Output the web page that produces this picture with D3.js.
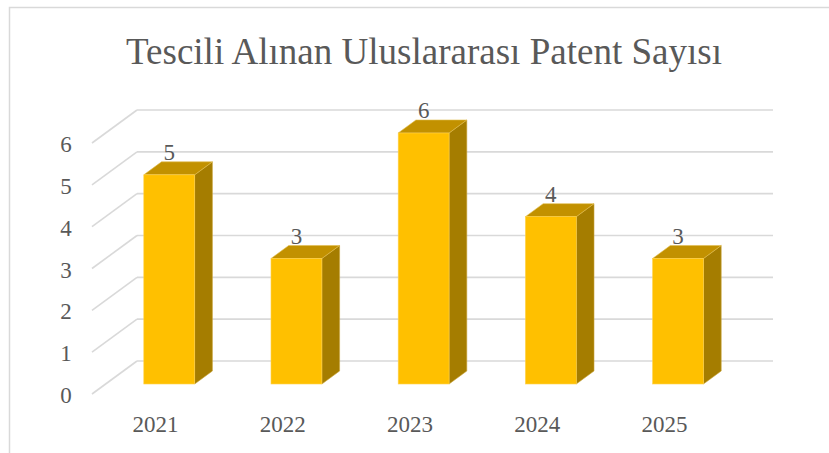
<!DOCTYPE html>
<html>
<head>
<meta charset="utf-8">
<script src="https://cdn.jsdelivr.net/npm/d3@7"></script>
<style>
html,body{margin:0;padding:0;background:#fff;}
svg{display:block;}
</style>
</head>
<body>
<svg id="chart" width="829" height="453"></svg>
<script>
const title = "Tescili Alınan Uluslararası Patent Sayısı";
const categories = ["2021", "2022", "2023", "2024", "2025"];
const values = [5, 3, 6, 4, 3];
const yTicks = [0, 1, 2, 3, 4, 5, 6];

const svg = d3.select("#chart");
const W = 829, H = 453;
const textColor = "#595959";
const font = "'Liberation Serif','Times New Roman',serif";

// outer chart border (left/top visible)
svg.append("rect").attr("x", 9.5).attr("y", 7.5).attr("width", W + 20).attr("height", H + 20)
  .attr("fill", "#fff").attr("stroke", "#d9d9d9").attr("stroke-width", 1.5);

// back wall plane
const x = d3.scaleBand().domain(categories).range([137, 773]).padding(0);
const y = d3.scaleLinear().domain([0, 6]).range([361, 110]);
// depth vector from back to front
const DX = -45, DY = 33;
const fBack = 0.303, fFront = 0.697;
const barRatio = 0.4;

// gridlines
const grid = svg.append("g");
yTicks.forEach(v => {
  const yy = y(v);
  grid.append("line").attr("x1", x.range()[0]).attr("x2", x.range()[1])
    .attr("y1", yy).attr("y2", yy)
    .attr("stroke", "#d9d9d9").attr("stroke-width", 1.6);
  grid.append("line").attr("x1", x.range()[0]).attr("y1", yy)
    .attr("x2", x.range()[0] + DX).attr("y2", yy + DY)
    .attr("stroke", "#d9d9d9").attr("stroke-width", 1.6);
});

// y tick labels
svg.append("g").selectAll("text").data(yTicks).join("text")
  .attr("x", 66).attr("y", d => y(d) + DY + 9)
  .attr("text-anchor", "middle")
  .attr("font-family", font).attr("font-size", 23).attr("fill", textColor)
  .text(d => d);

// category labels (front plane)
svg.append("g").selectAll("text").data(categories).join("text")
  .attr("x", d => x(d) + x.bandwidth() / 2 + DX)
  .attr("y", 432)
  .attr("text-anchor", "middle")
  .attr("font-family", font).attr("font-size", 23).attr("fill", textColor)
  .text(d => d);

// bars
const bw = x.bandwidth() * barRatio;
const bars = svg.append("g");
categories.forEach((c, i) => {
  const v = values[i];
  const cx = x(c) + x.bandwidth() / 2;
  const fx0 = cx - bw / 2 + DX * fFront, fx1 = fx0 + bw;
  const fy0 = y(0) + DY * fFront, fyT = y(v) + DY * fFront;
  const bx0 = cx - bw / 2 + DX * fBack, bx1 = bx0 + bw;
  const by0 = y(0) + DY * fBack, byT = y(v) + DY * fBack;
  // side face
  bars.append("path")
    .attr("d", `M${fx1},${fyT}L${bx1},${byT}L${bx1},${by0}L${fx1},${fy0}Z`)
    .attr("fill", "#A57D00").attr("stroke", "#C9A43A").attr("stroke-width", 0.6);
  // top face
  bars.append("path")
    .attr("d", `M${fx0},${fyT}L${bx0},${byT}L${bx1},${byT}L${fx1},${fyT}Z`)
    .attr("fill", "#C29100").attr("stroke", "#E3BE4F").attr("stroke-width", 0.6);
  // front face
  bars.append("rect")
    .attr("x", fx0).attr("y", fyT).attr("width", bw).attr("height", fy0 - fyT)
    .attr("fill", "#FFC000").attr("stroke", "#FFD24D").attr("stroke-width", 0.6);
  // data label
  bars.append("text")
    .attr("x", (fx0 + fx1) / 2).attr("y", byT - 1.5)
    .attr("text-anchor", "middle")
    .attr("font-family", font).attr("font-size", 23).attr("fill", textColor)
    .text(v);
});

// title
svg.append("text").attr("x", 424).attr("y", 63.5)
  .attr("text-anchor", "middle")
  .attr("font-family", font).attr("font-size", 38).attr("fill", textColor)
  .attr("textLength", 596).attr("lengthAdjust", "spacingAndGlyphs")
  .text(title);
</script>
</body>
</html>
